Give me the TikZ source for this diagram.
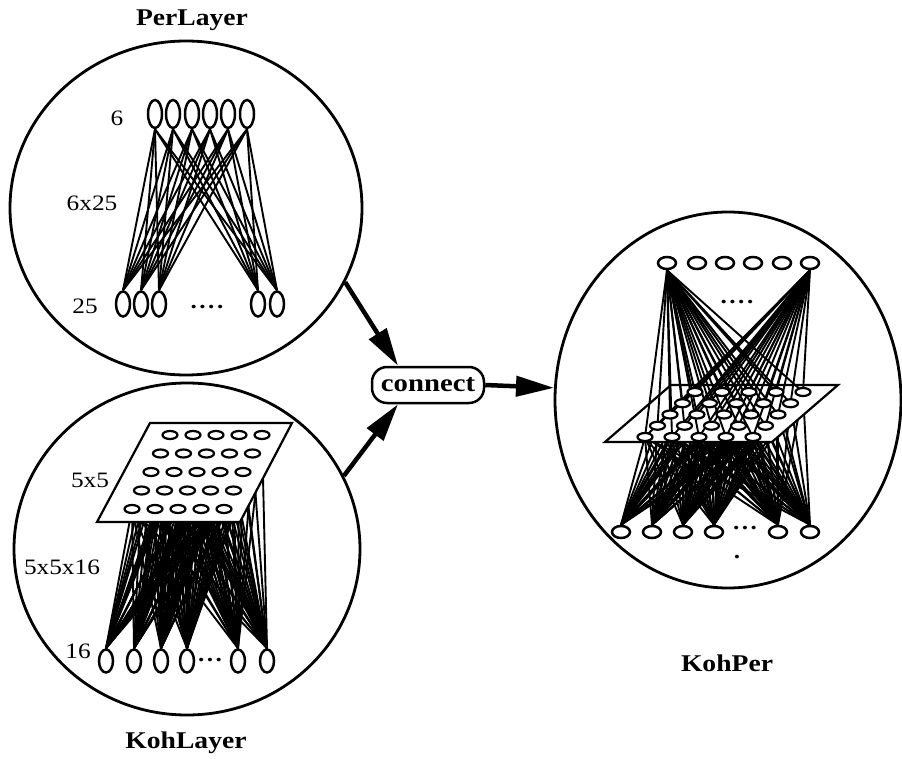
\documentclass[tikz,border=0pt]{standalone}
\usepackage{fontspec}
\setmainfont{Liberation Serif}[FakeStretch=1.15]
\usepackage{tikz}
\usetikzlibrary{shapes.geometric,arrows.meta,positioning}
\tikzstyle{layer}=[
  draw,ellipse,line width=2.8pt,inner sep=0pt
]
\tikzstyle{vunit}=[
  draw,ellipse,line width=2.5pt,fill=white,inner sep=0pt,minimum width=14pt,minimum height=27pt
]
\tikzstyle{hunit}=[
  draw,ellipse,line width=2.5pt,fill=white,inner sep=0pt,minimum width=18pt,minimum height=12pt
]
\tikzstyle{gunit}=[
  draw,ellipse,line width=2.2pt,fill=white,inner sep=0pt,minimum width=15pt,minimum height=8pt
]
\tikzstyle{weight}=[
  line width=1.9pt
]
\tikzstyle{plane}=[
  draw,fill=white,line width=2.2pt,line join=miter
]
\tikzstyle{flow}=[
  -{Triangle[length=38pt,width=20pt]},line width=4.5pt
]
\tikzstyle{title}=[
  font=\fontsize{24}{28}\selectfont\bfseries
]
\tikzstyle{count}=[
  font=\fontsize{22}{26}\selectfont
]
\newcommand{\dotsep}{\kern2.5pt}

\begin{document}
\begin{tikzpicture}[x=1pt,y=-1pt]
  \useasboundingbox (0,0) rectangle (902,759);
  % the three layers
  \node (per) [layer,minimum width=352pt,minimum height=334pt] at (186,208) {};
  \node (koh) [layer,minimum width=346pt,minimum height=332pt] at (187,549) {};
  \node (kp) [layer,minimum width=346pt,minimum height=376pt] at (728,400) {};
  \node (pertitle) [title] at (192,20) {PerLayer};
  \node (kohtitle) [title] at (186,743) {KohLayer};
  \node (kptitle) [title] at (727,663) {KohPer};

  % PerLayer
  \foreach \x [count=\i] in {155,173,192,210,228,247}
    \node (pt\i) [vunit,minimum height=28pt] at (\x,114) {};
  \foreach \x [count=\i] in {123,141,159,258,277}
    \node (pb\i) [vunit,minimum height=25pt] at (\x,304) {};
  \foreach \i in {1,...,6}
    \foreach \j in {1,...,5}
      \draw [weight] (pt\i.south) -- (pb\j.north);
  \node (pdots) [count] at (207,307) {\textbf{.\dotsep.\dotsep.\dotsep.}};
  \node (p6) [count] at (117,118) {6};
  \node (p625) [count] at (92,203) {6x25};
  \node (p25) [count] at (85,306) {25};

  % KohLayer
  \foreach \r in {0,...,4}
    \foreach \c in {0,...,4}
      \coordinate (kg\r\c) at ({170-9.5*\r+23*\c},{435+18.5*\r});
  \foreach \x [count=\i] in {106,134,161,187,238,267}
    \node (kb\i) [vunit,minimum height=23pt] at (\x,661) {};
  \foreach \r in {0,...,4}
    \foreach \c in {0,...,4}
      \foreach \j in {1,...,6}
        \draw [weight] (kg\r\c) -- (kb\j.north);
  \draw [plane] (150,423) -- (292,423) -- (240,522) -- (97,522) -- cycle;
  \foreach \r in {0,...,4}
    \foreach \c in {0,...,4}
      \node (kgu\r\c) [gunit] at (kg\r\c) {};
  \node (kdots) [count] at (210,660) {\textbf{.\dotsep.\dotsep.}};
  \node (k55) [count] at (90,480) {5x5};
  \node (k5516) [count] at (62,567) {5x5x16};
  \node (k16) [count] at (78,651) {16};

  % KohPer
  \foreach \x [count=\i] in {667,697,725,753,782,810}
    \node (kt\i) [hunit] at (\x,263) {};
  \foreach \x [count=\i] in {621,652,683,714,778,810}
    \node (kpb\i) [hunit] at (\x,532) {};
  \foreach \r in {0,...,4}
    \foreach \c in {0,...,4}
      \coordinate (kq\r\c) at ({645+12.5*(4-\r)+27*\c},{392+11.25*\r});
  \foreach \r in {0,...,4}
    \foreach \c in {0,...,4}
      \foreach \j in {1,...,6}
        \draw [weight] (kq\r\c) -- (kpb\j.north);
  \draw [plane] (671,385) -- (838,385) -- (772,442) -- (605,442) -- cycle;
  \foreach \i in {1,6}
    \foreach \r in {0,...,4}
      \foreach \c in {0,...,4}
        \draw [weight] (kt\i.south) -- (kq\r\c);
  \foreach \r in {0,...,4}
    \foreach \c in {0,...,4}
      \node (kqu\r\c) [gunit] at (kq\r\c) {};
  \node (ktdots) [count] at (737,302) {\textbf{.\dotsep.\dotsep.\dotsep.}};
  \node (kbdots) [count] at (745,528) {\textbf{.\dotsep.\dotsep.}};
  \node (kpdot) [count] at (737,557) {\textbf{.}};

  % connect step
  \node (conn) [draw,rounded corners=15pt,line width=2.5pt,minimum width=112pt,minimum height=36pt,
    font=\fontsize{25}{29}\selectfont\bfseries] at (428,385) {connect};
  \draw [flow] (per.-25) -- ([xshift=-30pt]conn.north);
  \draw [flow] (koh.25) -- ([xshift=-30pt]conn.south);
  \draw [flow] (conn.east) -- (kp.176);
\end{tikzpicture}
\end{document}
